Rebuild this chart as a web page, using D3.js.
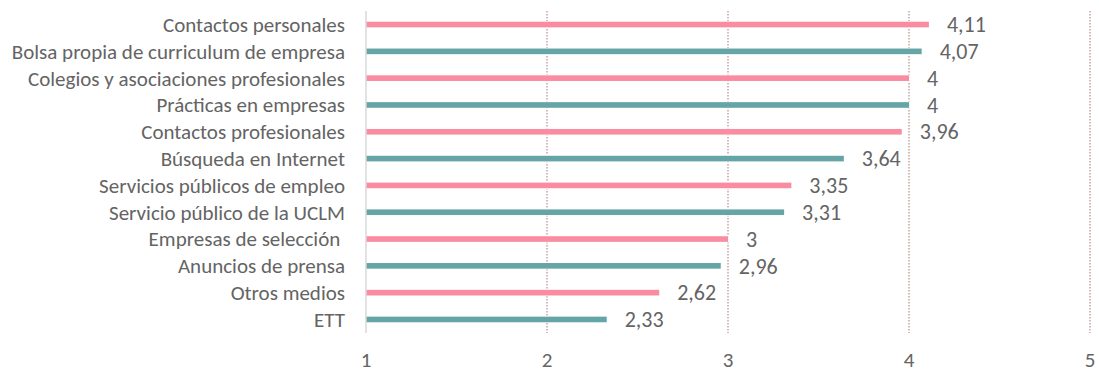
<!DOCTYPE html>
<html>
<head>
<meta charset="utf-8">
<script src="https://cdn.jsdelivr.net/npm/d3@7"></script>
<style>
  body { margin: 0; background: #fff; }
  text { font-family: Carlito, 'Open Sans', sans-serif; fill: #646464; }
</style>
</head>
<body>
<svg id="chart" width="1099" height="372"></svg>
<script>
'use strict'

/****** DATA ******/

const categories = [
  'Contactos personales',
  'Bolsa propia de curriculum de empresa',
  'Colegios y asociaciones profesionales',
  'Prácticas en empresas',
  'Contactos profesionales',
  'Búsqueda en Internet',
  'Servicios públicos de empleo',
  'Servicio público de la UCLM',
  'Empresas de selección ',
  'Anuncios de prensa',
  'Otros medios',
  'ETT'
]
const values = [4.11, 4.07, 4.00, 4.00, 3.96, 3.64, 3.35, 3.31, 3.00, 2.96, 2.62, 2.33]
const ticks = [1, 2, 3, 4, 5]

const colors = ['#fa8ca2', '#66a5a5'] // alternating pink / teal

/****** CHART ******/

const svg = d3.select('#chart')
const fmt = v => d3.format('.2~f')(v).replace('.', ',')

const x = d3.scaleLinear().domain([1, 5]).range([366, 1090])
const y = d3.scaleBand().domain(categories).range([11, 333]).paddingInner(0.79).paddingOuter(0.4)

// dotted gridlines
svg.append('g')
  .selectAll('line')
  .data(ticks.slice(1))
  .join('line')
    .attr('x1', d => x(d)).attr('x2', d => x(d))
    .attr('y1', 11).attr('y2', 333)
    .attr('stroke', '#c9a3a3')
    .attr('stroke-width', 1.5)
    .attr('stroke-dasharray', '1.5,1.5')

// bars
svg.append('g')
  .selectAll('rect')
  .data(values)
  .join('rect')
    .attr('x', x(1))
    .attr('y', (d, i) => y(categories[i]))
    .attr('width', d => x(d) - x(1))
    .attr('height', y.bandwidth())
    .attr('fill', (d, i) => colors[i % 2])
    .attr('stroke', '#fff')
    .attr('stroke-width', 1.5)
    .attr('paint-order', 'stroke')

// left axis line
svg.append('line')
  .attr('x1', x(1)).attr('x2', x(1))
  .attr('y1', 11).attr('y2', 333)
  .attr('stroke', '#d9d9d9')
  .attr('stroke-width', 1.5)

// category labels
svg.append('g')
  .selectAll('text')
  .data(categories)
  .join('text')
    .attr('x', 345)
    .attr('y', d => y(d) + y.bandwidth() / 2)
    .attr('dy', '0.35em')
    .attr('text-anchor', 'end')
    .attr('font-size', 21)
    .style('white-space', 'pre')
    .text(d => d)

// value labels
svg.append('g')
  .selectAll('text')
  .data(values)
  .join('text')
    .attr('x', d => x(d) + 18)
    .attr('y', (d, i) => y(categories[i]) + y.bandwidth() / 2)
    .attr('dy', '0.35em')
    .attr('font-size', 22)
    .text(fmt)

// x tick labels
svg.append('g')
  .selectAll('text')
  .data(ticks)
  .join('text')
    .attr('x', d => x(d))
    .attr('y', 366.5)
    .attr('text-anchor', 'middle')
    .attr('font-size', 21)
    .text(d => d)
</script>
</body>
</html>
